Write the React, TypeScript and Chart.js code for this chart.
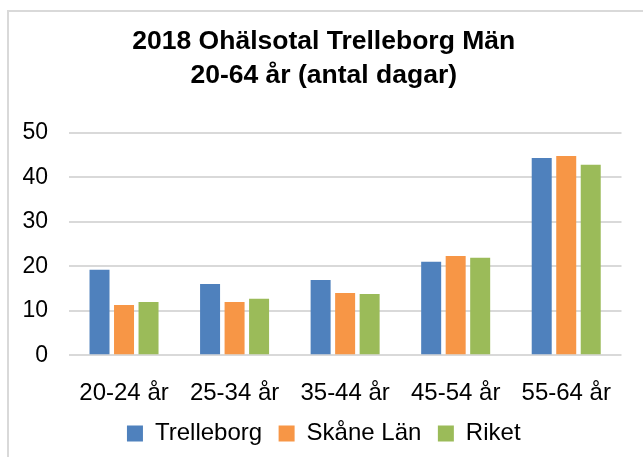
import React, { useEffect, useRef } from "react";
import { Chart, registerables } from "chart.js";

Chart.register(...registerables);

const categories = ["20-24 år", "25-34 år", "35-44 år", "45-54 år", "55-64 år"];
const trelleborg = [19.2, 16.0, 16.9, 21.0, 44.3];
const skaneLan = [11.3, 12.0, 14.0, 22.3, 44.8];
const riket = [12.0, 12.7, 13.8, 21.9, 42.8];
const yTicks = [0, 10, 20, 30, 40, 50];
const titleLines = ["2018 Ohälsotal Trelleborg Män", "20-64 år (antal dagar)"];

const FONT = "'Liberation Sans', Arial, sans-serif";

const frame = {
  id: "frame",
  afterLayout(chart: any) {
    // let the y tick labels extend left of the axis box
    const y = chart.scales.y;
    if (y) y._computeLabelArea = () => undefined;
  },
  beforeDraw(chart: any) {
    const ctx = chart.ctx;
    ctx.save();
    ctx.fillStyle = "#ffffff";
    ctx.fillRect(0, 0, chart.width, chart.height);
    ctx.strokeStyle = "#d9d9d9";
    ctx.lineWidth = 2;
    ctx.beginPath();
    ctx.moveTo(8, chart.height);
    ctx.lineTo(8, 11);
    ctx.lineTo(chart.width, 11);
    ctx.stroke();
    ctx.restore();
  },
};

export default function App() {
  const ref = useRef<HTMLCanvasElement>(null);
  useEffect(() => {
    if (!ref.current) return;
    Chart.defaults.font.family = FONT;
    const chart = new Chart(ref.current, {
      type: "bar",
      data: {
        labels: categories,
        datasets: [
          { label: "Trelleborg", data: trelleborg, backgroundColor: "#4f81bd", borderWidth: 0 },
          { label: "Skåne Län", data: skaneLan, backgroundColor: "#f79646", borderWidth: 0 },
          { label: "Riket", data: riket, backgroundColor: "#9bbb59", borderWidth: 0 },
        ],
      },
      options: {
        responsive: false,
        animation: false,
        datasets: { bar: { barPercentage: 0.816, categoryPercentage: 0.665 } },
        layout: { padding: { left: 26, right: 21.5, top: 0, bottom: 1.5 } },
        plugins: {
          tooltip: { enabled: false },
          title: {
            display: true,
            text: titleLines,
            color: "#000",
            font: { family: FONT, size: 26.5, weight: "bold", lineHeight: 1.25 },
            padding: { top: 25.5, bottom: 41 },
          },
          legend: {
            position: "bottom",
            labels: {
              boxWidth: 16,
              boxHeight: 16,
              padding: 16.5,
              color: "#000",
              font: { family: FONT, size: 24 },
            },
          },
        },
        scales: {
          x: {
            grid: { display: false },
            border: { display: false },
            afterFit: (scale: any) => {
              scale.height = 49.7;
            },
            ticks: {
              color: "#000",
              padding: 15.3,
              maxRotation: 0,
              font: { family: FONT, size: 24, lineHeight: 1.2 },
            },
          },
          y: {
            min: 0,
            max: 50,
            afterBuildTicks: (axis: any) => {
              axis.ticks = yTicks.map((v) => ({ value: v }));
            },
            afterFit: (scale: any) => {
              scale.width = 42.75;
            },
            grid: { color: "#d9d9d9", lineWidth: 2, drawTicks: false },
            border: { display: false },
            ticks: {
              color: "#000",
              padding: 20.75,
              font: { family: FONT, size: 23 },
            },
          },
        },
      },
      plugins: [frame],
    });
    return () => chart.destroy();
  }, []);
  return (
    <div style={{ position: "absolute", left: 0, top: 0, width: 643, height: 457 }}>
      <canvas ref={ref} width={643} height={457} style={{ display: "block" }} />
    </div>
  );
}
